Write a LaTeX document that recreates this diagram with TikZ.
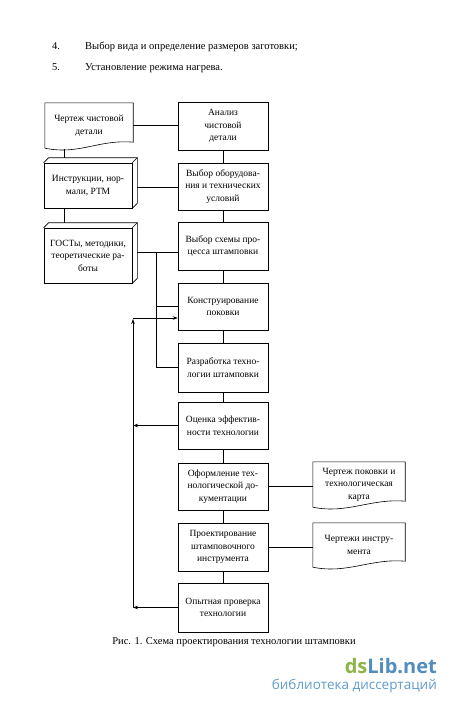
\documentclass[tikz,border=0pt]{standalone}
\usepackage{fontspec}
\setmainfont{Liberation Serif}
\newfontfamily\wmfont{Open Sans}
\usetikzlibrary{arrows.meta,calc}
\definecolor{wmgreen}{RGB}{140,180,70}
\definecolor{wmblue}{RGB}{80,140,190}
\definecolor{wmlight}{RGB}{95,155,205}
\newcommand\threedbox[1]{%
  \draw[line width=0.6pt] (#1.north west) -- ++(5,-5) -- ($(#1.north east)+(5,-5)$) -- ($(#1.south east)+(5,-5)$) -- (#1.south east);
  \draw[line width=0.6pt] (#1.north east) -- ++(5,-5);}
\newcommand\docshape[1]{%
  \draw[line width=0.6pt] (#1.north west) -- (#1.north east) -- ($(#1.south east)+(0,-6)$)
    .. controls ($(#1.south east)+(-35,-9)$) and ($(#1.south west)+(35,7)$) .. (#1.south west) -- cycle;}
\begin{document}
\begin{tikzpicture}[x=1pt,y=-1pt,
  box/.style={draw,line width=0.6pt,minimum width=90pt,minimum height=47pt,align=center,inner sep=2pt,font=\fontsize{9.5}{12.5}\selectfont},
  lbox/.style={draw,line width=0.6pt,minimum width=88pt,align=center,inner sep=2pt,font=\fontsize{9.5}{12.5}\selectfont},
  dbox/.style={draw=none,align=center,inner sep=2pt,font=\fontsize{9.5}{12.5}\selectfont},
  conn/.style={line width=0.6pt},
  arr/.style={line width=0.6pt,-{Stealth[length=5pt,width=3.5pt]}},
  txt/.style={font=\fontsize{10.5}{13}\selectfont,anchor=base west,inner sep=0pt}]
\useasboundingbox (0,0) rectangle (450,704);

% header text
\node[txt] (n4) at (52,49) {4.};
\node[txt] (t4) at (85,49) {Выбор вида и определение размеров заготовки;};
\node[txt] (n5) at (52,70) {5.};
\node[txt] (t5) at (85,70) {Установление режима нагрева.};

% right column
\node[box,minimum height=48pt] (an)  at (223,126)   {Анализ\\чистовой\\детали};
\node[box] (eq)  at (223,186.5) {Выбор оборудова-\\ния и технических\\условий};
\node[box,minimum height=48pt] (sch) at (223,246)   {Выбор схемы про-\\цесса штамповки};
\node[box] (kon) at (223,306.5) {Конструирование\\поковки};
\node[box,minimum height=49pt] (raz) at (223,367.5) {Разработка техно-\\логии штамповки};
\node[box] (oc)  at (223,425.5) {Оценка эффектив-\\ности технологии};
\node[box] (of)  at (223,486.5) {Оформление тех-\\нологической до-\\кументации};
\node[box,minimum height=48pt] (pr)  at (223,547)   {Проектирование\\штамповочного\\инструмента};
\node[box,minimum height=49pt] (op)  at (223,607.5) {Опытная проверка\\технологии};

% left column
\node[dbox,minimum width=88pt,minimum height=45pt] (d1) at (89,125.5) {Чертеж чистовой\\детали};
\docshape{d1}
\node[lbox,minimum height=45pt] (b2) at (88,185.5) {Инструкции, нор-\\мали, РТМ};
\threedbox{b2}
\node[lbox,minimum height=55pt] (b3) at (88,255.5) {ГОСТы, методики,\\теоретические ра-\\боты};
\threedbox{b3}

% right documents
\node[dbox,minimum width=92pt,minimum height=45pt] (dd1) at (359,484.5) {Чертеж поковки и\\технологическая\\карта};
\docshape{dd1}
\node[dbox,minimum width=92pt,minimum height=44pt] (dd2) at (359,545) {Чертежи инстру-\\мента};
\docshape{dd2}

% main chain
\draw[conn] (an.south) -- (eq.north);
\draw[conn] (eq.south) -- (sch.north);
\draw[conn] (sch.south) -- (kon.north);
\draw[conn] (kon.south) -- (raz.north);
\draw[conn] (raz.south) -- (oc.north);
\draw[conn] (oc.south) -- (of.north);
\draw[conn] (of.south) -- (pr.north);
\draw[conn] (pr.south) -- (op.north);

% left links
\coordinate (lx) at (64,0);
\draw[conn] ($(lx |- d1.south)+(0,1)$) -- ($(lx |- b2.north)+(0,-5)$);
\draw[conn] (lx |- b2.south) -- ($(lx |- b3.north)+(0,-5)$);
\draw[conn] (d1.east) -- (d1.east -| an.west);
\draw[conn] ($(b2.east)+(5,1.5)$) -- ($(b2.east -| eq.west)+(0,1.5)$);
\coordinate (j) at (156,252);
\draw[conn] ($(b3.east |- j)+(5,0)$) -- (j -| sch.west);
\draw[conn] (j) |- (kon.west);
\draw[conn] (j) |- (raz.west);

% documents links
\draw[conn] (of.east) -- (of.east -| dd1.west);
\draw[conn] (pr.east) -- (pr.east -| dd2.west);

% feedback
\coordinate (fx) at (133,0);
\coordinate (ftop) at (133,318);
\draw[arr] (op.west) -- (op.west -| fx);
\draw[arr] (oc.west) -- (oc.west -| fx);
\draw[arr] (op.west -| fx) -- ($(ftop)+(0,1)$);
\draw[arr] (ftop) -- (ftop -| kon.west);

% caption
\node[font=\fontsize{10.5}{13}\selectfont,inner sep=0pt] (cap) at (234,642) {Рис. 1. Схема проектирования технологии штамповки};

% watermark
\node[anchor=base east,inner sep=0pt,font=\wmfont\bfseries\fontsize{20}{22}\selectfont] (wm1) at (437,673) {\textcolor{wmgreen}{ds}\textcolor{wmblue}{Lib.net}};
\node[anchor=base east,inner sep=0pt,font=\wmfont\fontsize{13.5}{15}\selectfont,text=wmlight] (wm2) at (437,689) {библиотека диссертаций};
\end{tikzpicture}
\end{document}
